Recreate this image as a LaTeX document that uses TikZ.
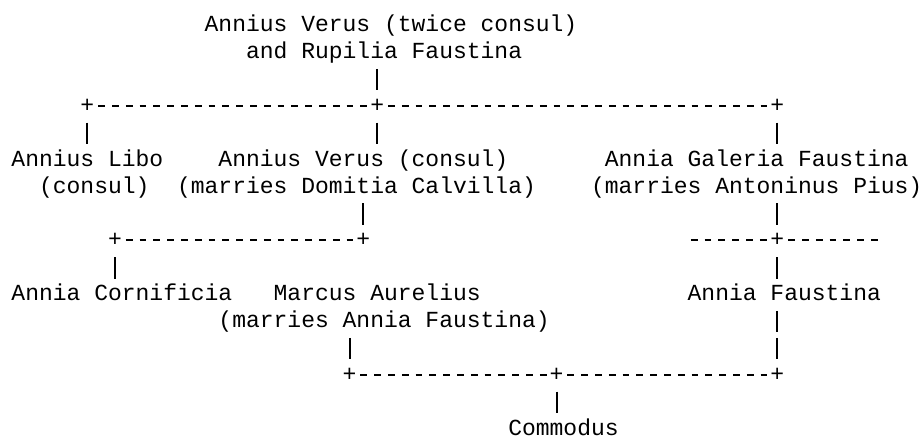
\documentclass[tikz,border=0pt]{standalone}
\usepackage{fontspec}
\newfontfamily\treemono{Liberation Mono}
\newcommand\treefont{\treemono\fontsize{11.5pt}{13.45pt}\selectfont}
\newlength\chw \setlength\chw{6.9pt}
\newcommand\ind[1]{\hspace*{#1\chw}}
\newcommand\pair[2]{\vtop{\hbox{#1}\hbox{#2}}}
% size of one | of the font, for the upright links
\newlength\barht \newlength\bardp
\settoheight\barht{\treefont|}\settodepth\bardp{\treefont|}
\newlength\baron \setlength\baron{\dimexpr\barht+\bardp\relax}
\newlength\baroff \setlength\baroff{\dimexpr13.45pt-\baron\relax}
\newlength\barcuta \setlength\barcuta{\dimexpr13.45pt-\barht\relax}
\newlength\barcutb \setlength\barcutb{\dimexpr13.45pt-\bardp\relax}

\tikzset{
  person/.style={font=\treefont, inner sep=0pt, anchor=base west},
  junction/.style={font=\treefont, inner sep=0pt, anchor=base west},
  hlink/.style={line width=.85pt, dash pattern=on 3.38pt off 3.52pt, dash phase=5.14pt},
  vlink/.style={line width=.95pt, /utils/exec={\pgfsetdash{{\baron}{\baroff}}{0pt}},
    shorten <=\barcuta, shorten >=\barcutb},
}

\begin{document}
\begin{tikzpicture}[x=6.9pt, y=-13.45pt]
        \useasboundingbox (-0.804,-0.178) rectangle (66.08,16.067);

        \node[person] (founders) at (14,1) {\pair{Annius Verus (twice consul)}{\ind{3}and Rupilia Faustina}}; %parents
        \node[junction] (j1) at (5,4) {+};
        \node[junction] (j2) at (26,4) {+};
        \node[junction] (j3) at (55,4) {+};

        \node[person] (libo) at (0,6) {\pair{Annius Libo}{\ind{2}(consul)}}; %libo
        \node[person] (verus) at (12,6) {\pair{\ind{3}Annius Verus (consul)}{(marries Domitia Calvilla)}}; %verus
        \node[person] (galeria) at (42,6) {\pair{\ind{1}Annia Galeria Faustina}{(marries Antoninus Pius)}}; %galeria

        \node[junction] (j4) at (7,9) {+};
        \node[junction] (j5) at (25,9) {+};
        \node[junction] (j6) at (55,9) {+};
        \coordinate (e1) at (49,9);
        \coordinate (e2) at (63,9);

        \node[person] (cornificia) at (0,11) {Annia Cornificia}; %cornificia
        \node[person] (marcus) at (15,11) {\pair{\ind{4}Marcus Aurelius}{(marries Annia Faustina)}}; %marcus
        \node[person] (faustina) at (49,11) {Annia Faustina}; %faustina

        \node[junction] (j7) at (24,14) {+};
        \node[junction] (j8) at (39,14) {+};
        \node[junction] (j9) at (55,14) {+};
        \node[person] (commodus) at (36,16) {Commodus}; %commodus

        \draw[hlink] (j1.east) -- (j2.west);
        \draw[hlink] (j2.east) -- (j3.west);
        \draw[hlink] (j4.east) -- (j5.west);
        \draw[hlink] (e1 |- j6.west) -- (j6.west);
        \draw[hlink] (j6.east) -- (e2 |- j6.east);
        \draw[hlink] (j7.east) -- (j8.west);
        \draw[hlink] (j8.east) -- (j9.west);

        \draw[vlink] (founders.base -| j2) ++(0,1) -- (j2.base);
        \draw[vlink] (j1.base) -- (j1 |- libo.base);
        \draw[vlink] (j2.base) -- (j2 |- verus.base);
        \draw[vlink] (j3.base) -- (j3 |- galeria.base);
        \draw[vlink] (verus.base -| j5) ++(0,1) -- (j5.base);
        \draw[vlink] (galeria.base -| j6) ++(0,1) -- (j6.base);
        \draw[vlink] (j4.base) -- (j4 |- cornificia.base);
        \draw[vlink] (j6.base) -- (j6 |- faustina.base);
        \draw[vlink] (faustina.base -| j9) -- (j9.base);
        \draw[vlink] (marcus.base -| j7) ++(0,1) -- (j7.base);
        \draw[vlink] (j8.base) -- (j8 |- commodus.base);
    \end{tikzpicture}
\end{document}
